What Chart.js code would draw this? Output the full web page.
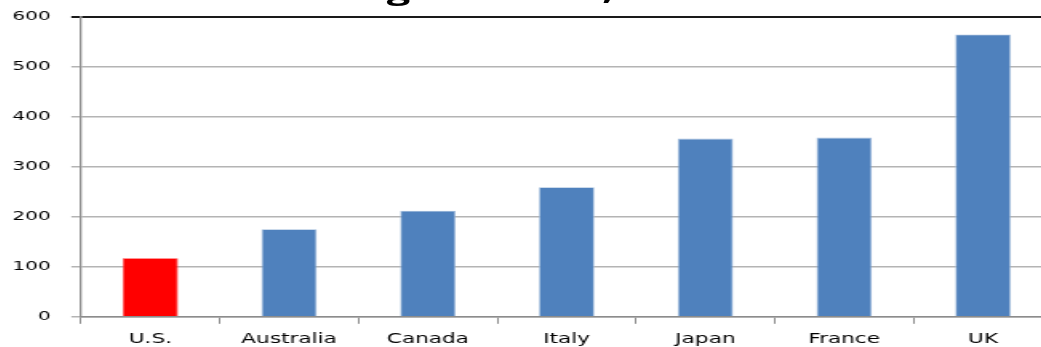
<!DOCTYPE html>
<html>
<head>
<meta charset="utf-8">
<script src="https://cdn.jsdelivr.net/npm/chart.js@4"></script>
<style>
  html, body { margin: 0; padding: 0; background: #fff; }
  #wrap { position: relative; width: 1041px; height: 347px; overflow: hidden; }
  /* the original picture is stretched sideways, so the chart is drawn narrow and widened */
  #box { position: absolute; left: -18px; top: -4px; width: 669px; height: 360px;
         transform: scaleX(1.6); transform-origin: 0 0; }
  #title { position: absolute; left: 117px; top: -24px; width: 416px; text-align: center;
           font: bold 26px "Open Sans", sans-serif; color: #000; white-space: nowrap; }
</style>
</head>
<body>
<div id="wrap">
  <div id="box">
    <canvas id="chart"></canvas>
    <div id="title">Growth in gross debt, 2007 to 2015</div>
  </div>
</div>
<script>
// Gegevens uit de grafiek
const countries = ['U.S.', 'Australia', 'Canada', 'Italy', 'Japan', 'France', 'UK'];
const values = [117, 175, 212, 259, 356, 358, 564];
const barColors = ['#ff0000', '#4f81bd', '#4f81bd', '#4f81bd', '#4f81bd', '#4f81bd', '#4f81bd'];
const yTicks = [0, 100, 200, 300, 400, 500, 600];

const ctx = document.getElementById('chart').getContext('2d');
const chart = new Chart(ctx, {
    type: 'bar',
    data: {
        labels: countries,
        datasets: [{
            data: values,
            backgroundColor: barColors,
            borderColor: barColors.map(c => c === '#ff0000' ? '#ff4040' : '#a3bddc'),
            borderWidth: 0.8,
            categoryPercentage: 1,
            barPercentage: 0.4
        }]
    },
    options: {
        responsive: true,
        maintainAspectRatio: false,
        animation: false,
        layout: { padding: { left: 6, top: 0, right: 0, bottom: 0 } },
        plugins: { legend: { display: false }, tooltip: { enabled: false }, title: { display: false } },
        scales: {
            x: {
                grid: { drawOnChartArea: false, drawTicks: true, tickLength: 7, color: '#8c8c8c', lineWidth: 1 },
                border: { color: '#8c8c8c', width: 1.5 },
                ticks: { padding: 8, color: '#000', font: { family: 'DejaVu Sans', size: 13.5 } }
            },
            y: {
                min: 0,
                max: 600,
                afterBuildTicks: axis => { axis.ticks = yTicks.map(v => ({ value: v })); },
                grid: {
                    tickLength: 6,
                    color: c => c.tick && c.tick.value === 600 ? '#1a1a1a' : '#b4b4b4',
                    lineWidth: c => c.tick && c.tick.value === 600 ? 2 : 1.5
                },
                border: { color: '#8c8c8c', width: 1.3 },
                ticks: { padding: 13, color: '#000', font: { family: 'DejaVu Sans', size: 12.5 } }
            }
        }
    }
});
</script>
</body>
</html>
